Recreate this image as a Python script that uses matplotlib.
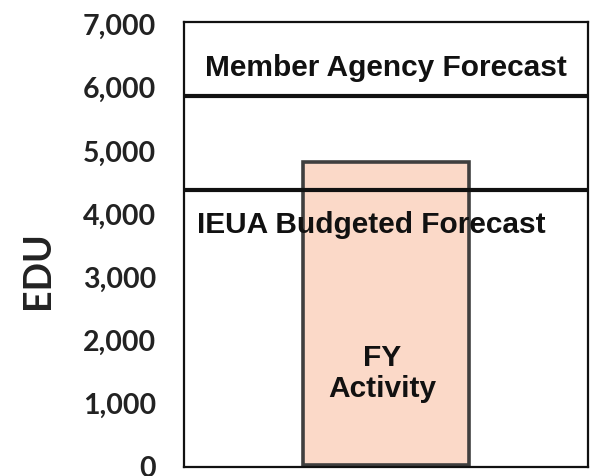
import matplotlib
matplotlib.use("Agg")
import matplotlib.pyplot as plt

# EDU values
categories = ["FY Activity"]
activity = [4800]
member_agency_forecast = 5850
ieua_budgeted_forecast = 4360
y_ticks = [0, 1000, 2000, 3000, 4000, 5000, 6000, 7000]
y_tick_labels = ["0", "1,000", "2,000", "3,000", "4,000", "5,000", "6,000", "7,000"]

fig = plt.figure(figsize=(5.91, 4.77), dpi=100)
ax = fig.add_axes([0.311, 0.019, 0.684, 0.933])

ax.bar([0], activity, width=0.41, color="#fbd9c8", edgecolor="#3f3f3f",
       linewidth=2.6, zorder=2)

ax.axhline(member_agency_forecast, color="#111111", linewidth=3, zorder=3)
ax.axhline(ieua_budgeted_forecast, color="#111111", linewidth=3, zorder=3)

txt_font = dict(family=["Liberation Sans", "DejaVu Sans"], color="#111111",
                fontweight="bold")
ax.text(0, 6320, "Member Agency Forecast", ha="center", va="center",
        fontsize=21.5, **txt_font, zorder=4)
ax.text(-0.037, 3830, "IEUA Budgeted Forecast", ha="center", va="center",
        fontsize=21.5, **txt_font, zorder=4)
ax.text(-0.01, 1470, "FY\nActivity", ha="center", va="center",
        fontsize=21.5, linespacing=1.15, **txt_font, zorder=4)

ax.set_xlim(-0.5, 0.5)
ax.set_ylim(-30, 7030)
ax.set_xticks([])
ax.set_yticks(y_ticks)
ax.set_yticklabels(y_tick_labels, fontfamily="Lato", fontweight="bold",
                   fontsize=20.5, color="#222222")
ax.tick_params(axis="y", length=0, pad=20)
ax.set_ylabel("EDU", fontfamily="Lato", fontweight="bold", fontsize=27,
              color="#222222")
ax.yaxis.set_label_coords(-0.318, 0.445)

for side in ["left", "right", "top", "bottom"]:
    ax.spines[side].set_linewidth(1.6)
    ax.spines[side].set_color("#111111")

fig.savefig("out.png", dpi=100)
